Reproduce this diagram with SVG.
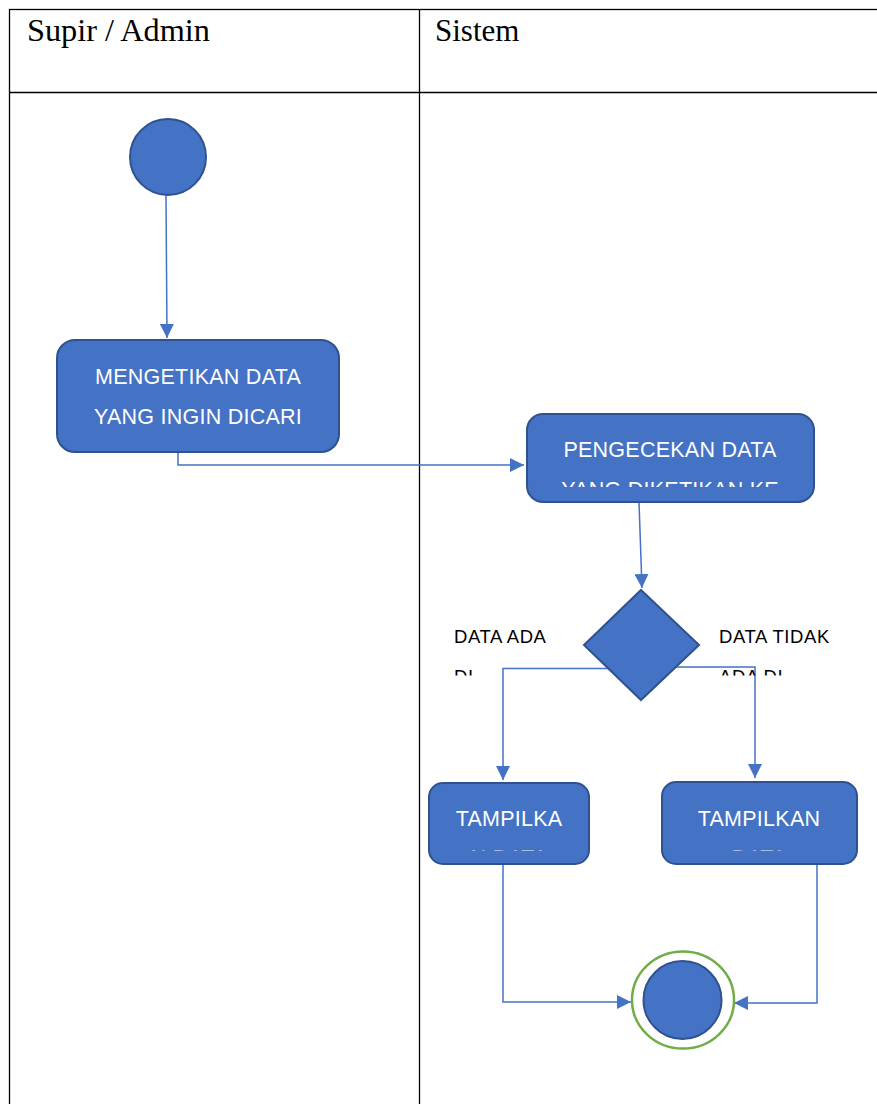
<svg xmlns="http://www.w3.org/2000/svg" width="877" height="1104" viewBox="0 0 877 1104">
<style>
.tbl{stroke:#000;stroke-width:1.3;fill:none}
.hdr{font-family:"Liberation Sans",serif;font-size:31px;fill:#000}
.hdr{font-family:"Liberation Serif",serif}
.node{fill:#4472C4;stroke:#2F528F;stroke-width:2}
.nt{font-family:"Liberation Sans",Arial,sans-serif;font-size:21.5px;letter-spacing:0.25px;fill:#fff;text-anchor:middle}
.lbl{font-family:"Liberation Sans",Arial,sans-serif;font-size:18.5px;letter-spacing:0.6px;fill:#000}
.con{fill:none;stroke:#4472C4;stroke-width:1.5}
</style>
<defs>
<marker id="ah" viewBox="0 0 10 10" refX="10" refY="5" markerWidth="14" markerHeight="14" markerUnits="userSpaceOnUse" orient="auto">
<path d="M0,0 L10,5 L0,10 Z" fill="#4472C4"/>
</marker>
<clipPath id="c2"><rect x="527" y="414" width="287" height="73"/></clipPath>
<clipPath id="cl1"><rect x="440" y="620" width="120" height="55.5"/></clipPath>
<clipPath id="cl2"><rect x="710" y="620" width="140" height="55.5"/></clipPath>
<clipPath id="c4"><rect x="429" y="783" width="160" height="67.5"/></clipPath>
<clipPath id="c5"><rect x="662" y="782" width="195" height="68.5"/></clipPath>
</defs>
<g id="table">
<rect class="tbl" x="9.5" y="9.5" width="900" height="1120"/>
<line class="tbl" x1="9.5" y1="92.5" x2="877" y2="92.5"/>
<line class="tbl" x1="419.5" y1="9.5" x2="419.5" y2="1104"/>
<text class="hdr" x="27" y="41" font-size="31" textLength="183" lengthAdjust="spacingAndGlyphs">Supir / Admin</text>
<text class="hdr" x="435" y="41" font-size="31">Sistem</text>
</g>
<g id="connectors">
<path class="con" d="M166,195 L167,338" marker-end="url(#ah)"/>
<path class="con" d="M178,452 L178,465 L524,465" marker-end="url(#ah)"/>
<path class="con" d="M639,502 L642,588" marker-end="url(#ah)"/>
<path class="con" d="M612,668.5 L503,668.5 L503,780" marker-end="url(#ah)"/>
<path class="con" d="M672,667 L755,667 L755,778" marker-end="url(#ah)"/>
<path class="con" d="M503,864 L503,1002 L631,1002" marker-end="url(#ah)"/>
<path class="con" d="M817,864 L817,1003 L734,1003" marker-end="url(#ah)"/>
</g>
<g id="start">
<circle class="node" cx="168" cy="157" r="38"/>
</g>
<g id="n1">
<rect class="node" x="57" y="340" width="282" height="112" rx="18"/>
<text class="nt" x="198" y="384">MENGETIKAN DATA</text>
<text class="nt" x="198" y="424">YANG INGIN DICARI</text>
</g>
<g id="n2">
<rect class="node" x="527" y="414" width="287" height="88" rx="16"/>
<g clip-path="url(#c2)">
<text class="nt" x="670" y="457">PENGECEKAN DATA</text>
<text class="nt" x="670" y="497">YANG DIKETIKAN KE</text>
</g>
</g>
<g id="decision">
<path class="node" d="M641,590 L699,645 L641,700 L584,645 Z"/>
<g clip-path="url(#cl1)">
<text class="lbl" x="454" y="643">DATA ADA</text>
<text class="lbl" x="454" y="683">DI</text>
</g>
<g clip-path="url(#cl2)">
<text class="lbl" x="719" y="643">DATA TIDAK</text>
<text class="lbl" x="719" y="683">ADA DI</text>
</g>
</g>
<g id="n3">
<rect class="node" x="429" y="783" width="160" height="81" rx="14"/>
<g clip-path="url(#c4)">
<text class="nt" x="509" y="826">TAMPILKA</text>
<text class="nt" x="509" y="865">N DATA</text>
</g>
</g>
<g id="n4">
<rect class="node" x="662" y="782" width="195" height="82" rx="14"/>
<g clip-path="url(#c5)">
<text class="nt" x="759" y="826">TAMPILKAN</text>
<text class="nt" x="759" y="865">DATA</text>
</g>
</g>
<g id="end">
<ellipse cx="683" cy="1000" rx="51" ry="48.5" fill="#fff" stroke="#70AD47" stroke-width="2.5"/>
<circle class="node" cx="682.5" cy="1000" r="39"/>
</g>
</svg>
